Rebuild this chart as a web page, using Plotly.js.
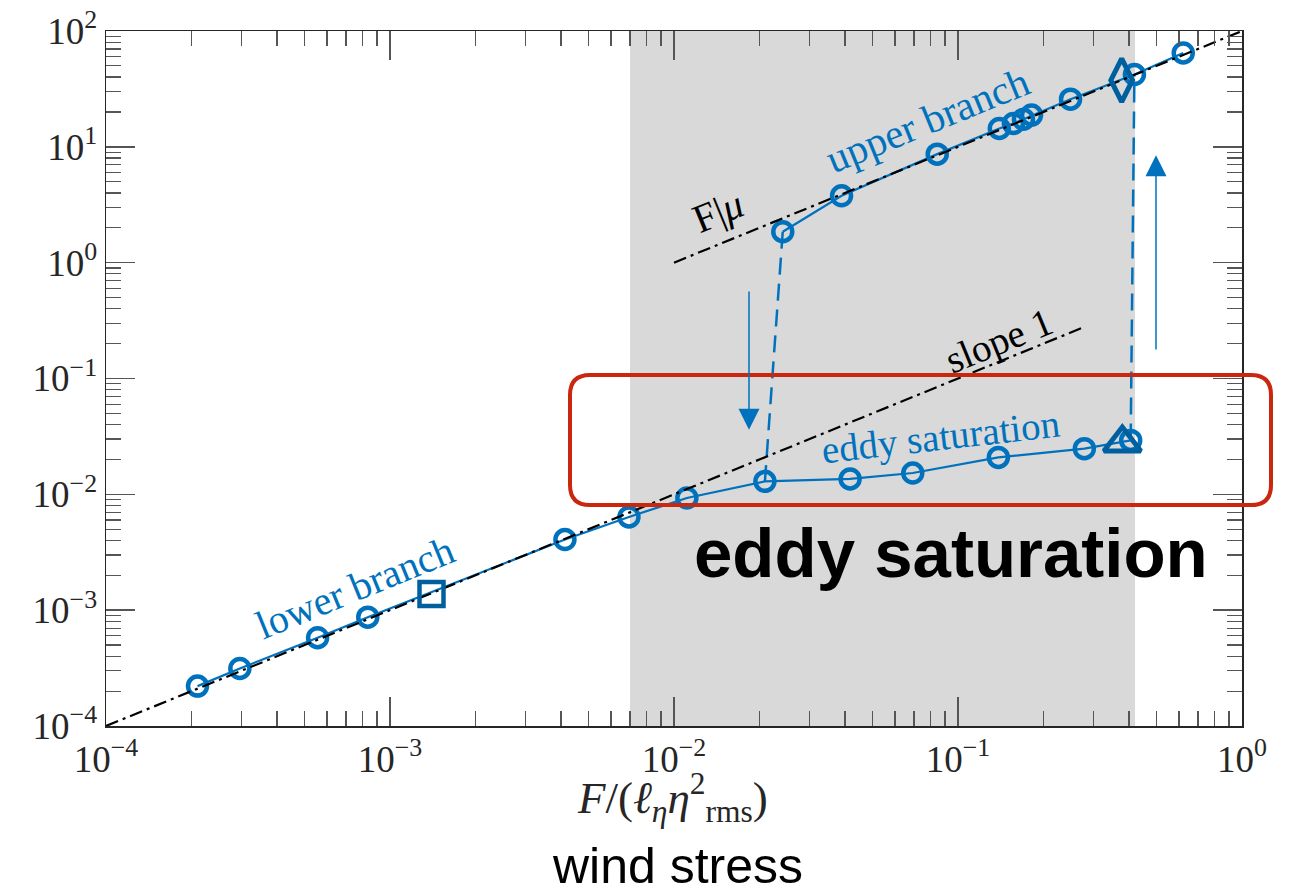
<!DOCTYPE html>
<html><head><meta charset="utf-8">
<script src="https://cdn.plot.ly/plotly-3.0.1.min.js"></script>
<style>html,body{margin:0;padding:0;background:#fff}#chart{width:1291px;height:894px}</style>
</head><body><div id="chart"></div>
<script>
// ---------- data ----------
const lowerX = [2.10e-4, 2.96e-4, 5.56e-4, 8.35e-4, 4.13e-3, 6.94e-3, 0.0111, 0.0209, 0.0417, 0.0693, 0.1387, 0.2785, 0.4055];
const lowerY = [2.21e-4, 3.14e-4, 5.78e-4, 8.70e-4, 4.07e-3, 6.38e-3, 9.3e-3, 0.01294, 0.01358, 0.01528, 0.02084, 0.02478, 0.0292];
const upperX = [0.02415, 0.0389, 0.0845, 0.1398, 0.1567, 0.170, 0.1815, 0.249, 0.418, 0.621];
const upperY = [1.85, 3.78, 8.65, 14.4, 15.9, 17.3, 18.8, 25.8, 42.1, 64.6];
const jumpDownX = [0.02415, 0.0209];
const jumpDownY = [1.85, 0.01294];
const jumpUpX = [0.4055, 0.418];
const jumpUpY = [0.0292, 42.1];
const squareX = [1.40e-3], squareY = [1.38e-3];
const diamondX = [0.377], diamondY = [37.6];
const triangleX = [0.379], triangleY = [0.0277];
const fmuX = [0.01, 1], fmuY = [1, 100];
const slope1X = [1e-4, 0.28], slope1Y = [1e-4, 0.28];
const bandX = [0.007, 0.42];
// arrows: [x, tailY, tipY]
const arrowDown = [0.01837, 0.582, 0.0361];
const arrowUp = [0.498, 0.173, 8.48];
// tick labels
const xTickVals = [1e-4, 1e-3, 1e-2, 1e-1, 1];
const xTickText = ['10<sup>−4</sup>','10<sup>−3</sup>','10<sup>−2</sup>','10<sup>−1</sup>','10<sup>0</sup>'];
const yTickVals = [1e-4, 1e-3, 1e-2, 1e-1, 1, 10, 100];
const yTickText = ['10<sup>−4</sup>','10<sup>−3</sup>','10<sup>−2</sup>','10<sup>−1</sup>','10<sup>0</sup>','10<sup>1</sup>','10<sup>2</sup>'];
// text labels: [text, x, y, angle]
const labelUpper = ['upper branch', 0.0783, 17.0, -22.2];
const labelFmu = ['F|<i>μ</i>', 0.01428, 2.75, -22.2];
const labelSlope = ['slope 1', 0.139, 0.212, -22.2];
const labelEddy = ['eddy saturation', 0.0865, 0.0314, -6.5];
const labelLower = ['lower branch', 7.53e-4, 1.57e-3, -22.2];

// ---------- helpers ----------
const BLUE = '#0072BD', DBLUE = '#00609F';
const SERIF = 'Liberation Serif, Times New Roman, serif';
const SANS = 'Liberation Sans, Arial, sans-serif';
const L = 106, T = 31, W = 1136, H = 695;
const px2paperX = p => (p - L) / W;
const px2paperY = p => (T + H - p) / H;
function minorVals(lo, hi) {
  const v = [];
  for (let d = lo; d < hi; d++) for (let k = 2; k <= 9; k++) v.push(k * Math.pow(10, d));
  return v;
}
const lg = Math.log10;

const traces = [
  {x: jumpDownX, y: jumpDownY, mode: 'lines', line: {color: BLUE, width: 2.5, dash: '17px,9px'}},
  {x: jumpUpX, y: jumpUpY, mode: 'lines', line: {color: BLUE, width: 2.5, dash: '17px,9px'}},
  {x: lowerX, y: lowerY, mode: 'lines+markers', line: {color: BLUE, width: 2.2},
   marker: {symbol: 'circle-open', size: 19, color: BLUE, line: {width: 4.5, color: BLUE}}},
  {x: upperX, y: upperY, mode: 'lines+markers', line: {color: BLUE, width: 2.2},
   marker: {symbol: 'circle-open', size: 19, color: BLUE, line: {width: 4.5, color: BLUE}}},
  {x: fmuX, y: fmuY, mode: 'lines', line: {color: '#000', width: 2.2, dash: '13px,5px,3px,5px'}},
  {x: slope1X, y: slope1Y, mode: 'lines', line: {color: '#000', width: 2.2, dash: '13px,5px,3px,5px'}},
  {x: squareX, y: squareY, mode: 'markers', marker: {symbol: 'square-open', size: 24, color: DBLUE, line: {width: 4.5, color: DBLUE}}},
  {x: diamondX, y: diamondY, mode: 'markers', marker: {symbol: 'diamond-tall-open', size: 31, color: DBLUE, line: {width: 5, color: DBLUE}}},
  {x: triangleX, y: triangleY, mode: 'markers', marker: {symbol: 'triangle-up-open', size: 32, color: DBLUE, line: {width: 5, color: DBLUE}}}
];

function textAnn(lab, color, size) {
  return {x: lg(lab[1]), y: lg(lab[2]), xref: 'x', yref: 'y', text: lab[0], textangle: lab[3],
          xanchor: 'center', yanchor: 'middle',
          showarrow: false, font: {family: SERIF, size: size, color: color}};
}
function arrowAnn(a) {
  return {x: lg(a[0]), y: lg(a[2]), ax: lg(a[0]), ay: lg(a[1]), xref: 'x', yref: 'y', axref: 'x', ayref: 'y',
          text: '', showarrow: true, arrowhead: 2, arrowsize: 2.8, arrowwidth: 1.5, arrowcolor: BLUE, standoff: 0};
}
function paperText(text, px, py, font) {
  return {xref: 'paper', yref: 'paper', x: px2paperX(px), y: px2paperY(py), text: text, showarrow: false,
          xanchor: 'center', yanchor: 'middle', font: font};
}

const r = 20;
const rx = r / W, ry = r / H;
const x0 = px2paperX(570), x1 = px2paperX(1271), y0 = px2paperY(505), y1 = px2paperY(375);
const rectPath = `M ${x0 + rx} ${y0} L ${x1 - rx} ${y0} Q ${x1} ${y0} ${x1} ${y0 + ry} L ${x1} ${y1 - ry} Q ${x1} ${y1} ${x1 - rx} ${y1} L ${x0 + rx} ${y1} Q ${x0} ${y1} ${x0} ${y1 - ry} L ${x0} ${y0 + ry} Q ${x0} ${y0} ${x0 + rx} ${y0} Z`;

const axisCommon = {
  type: 'log', showgrid: false, zeroline: false, showline: true, linecolor: '#262626', linewidth: 1.5,
  mirror: 'ticks', ticks: 'inside', ticklen: 29, tickwidth: 1.5, tickcolor: '#555',
  tickmode: 'array', tickfont: {family: SERIF, size: 37, color: '#262626'},
};

const layout = {
  width: 1291, height: 894, showlegend: false,
  paper_bgcolor: '#fff', plot_bgcolor: '#fff',
  margin: {l: L, r: 1291 - L - W, t: T, b: 894 - T - H},
  xaxis: Object.assign({}, axisCommon, {range: [-4, 0], tickvals: xTickVals, ticktext: xTickText,
    minor: {tickmode: 'array', tickvals: minorVals(-4, 0), ticks: 'inside', ticklen: 15, tickwidth: 1.2, tickcolor: '#555'}}),
  yaxis: Object.assign({}, axisCommon, {range: [-4, 2], tickvals: yTickVals, ticktext: yTickText,
    minor: {tickmode: 'array', tickvals: minorVals(-4, 2), ticks: 'inside', ticklen: 15, tickwidth: 1.2, tickcolor: '#555'}}),
  shapes: [
    {type: 'rect', xref: 'x', yref: 'paper', x0: bandX[0], x1: bandX[1], y0: 0, y1: 1,
     fillcolor: '#d9d9d9', line: {width: 0}, layer: 'below'},
    {type: 'path', xref: 'paper', yref: 'paper', path: rectPath, line: {color: '#C9270E', width: 4}, layer: 'above'}
  ],
  annotations: [
    textAnn(labelUpper, BLUE, 41), textAnn(labelFmu, '#000', 40), textAnn(labelSlope, '#000', 39),
    textAnn(labelEddy, BLUE, 39), textAnn(labelLower, BLUE, 40),
    arrowAnn(arrowDown), arrowAnn(arrowUp),
    paperText('<b>eddy saturation</b>', 951, 553, {family: SANS, size: 69, color: '#000'}),
    paperText('wind stress', 677, 866, {family: SANS, size: 50, color: '#000'}),
    paperText('<i>F</i>/(<i>ℓ</i><sub><i>η</i></sub><i>η</i><sup>2</sup><sub>rms</sub>)', 672, 797, {family: SERIF, size: 45, color: '#262626'})
  ]
};

Plotly.newPlot('chart', traces, layout, {displayModeBar: false, staticPlot: true});
</script></body></html>
